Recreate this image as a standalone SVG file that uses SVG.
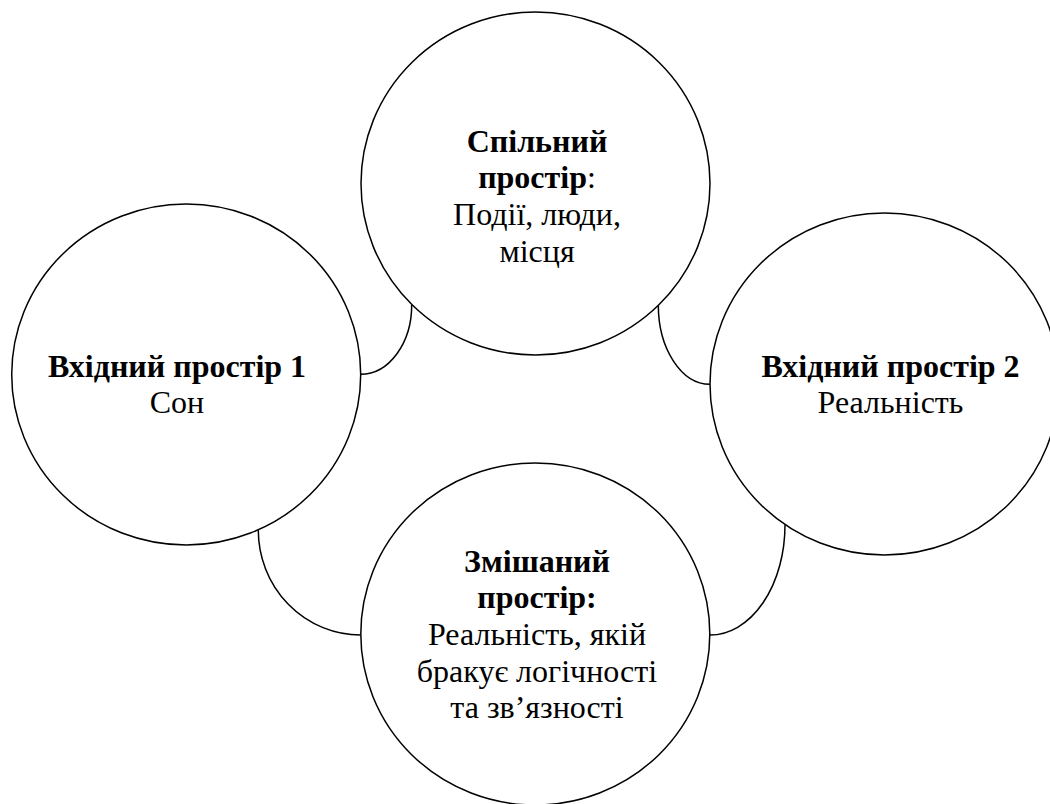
<svg xmlns="http://www.w3.org/2000/svg" width="1050" height="804" viewBox="0 0 1050 804">
<style>
.c{fill:#fff;stroke:#000;stroke-width:1.5}
.k{fill:none;stroke:#000;stroke-width:1.5}
.t{font-size:32px;fill:#000;text-anchor:middle}
.b{font-weight:bold}
</style>
<rect width="1050" height="804" fill="#fff"/>
<g id="connectors">
<path class="k" d="M411.7,305 A51,69.3 0 0 1 360.7,374.3"/>
<path class="k" d="M658.3,305 A51.7,79.3 0 0 0 710,384.3"/>
<path class="k" d="M258.3,530 A102.4,105 0 0 0 360.7,635"/>
<path class="k" d="M785,525 A75,110 0 0 1 710,635"/>
</g>
<g font-family="Liberation Serif, DejaVu Serif, serif">
<g id="top">
<ellipse class="c" cx="535.5" cy="183.5" rx="174.5" ry="171.5"/>
<text class="t b" x="537" y="151.7">Спільний</text>
<text class="t" x="537" y="188.3"><tspan class="b">простір</tspan>:</text>
<text class="t" x="537" y="225">Події, люди,</text>
<text class="t" x="537" y="261.7">місця</text>
</g>
<g id="left">
<ellipse class="c" cx="186.2" cy="374.5" rx="174.5" ry="170.5"/>
<text class="t b" x="177" y="376.7">Вхідний простір 1</text>
<text class="t" x="177" y="413.3">Сон</text>
</g>
<g id="right">
<ellipse class="c" cx="884.5" cy="384" rx="174.5" ry="171"/>
<text class="t b" x="890.5" y="376.7">Вхідний простір 2</text>
<text class="t" x="890.5" y="413.3">Реальність</text>
</g>
<g id="bottom">
<ellipse class="c" cx="535.3" cy="634" rx="174.5" ry="171"/>
<text class="t b" x="537" y="571.7">Змішаний</text>
<text class="t b" x="537" y="608.3">простір:</text>
<text class="t" x="537" y="645">Реальність, якій</text>
<text class="t" x="537" y="681.7">бракує логічності</text>
<text class="t" x="537" y="718.3">та зв’язності</text>
</g>
</g>
</svg>
